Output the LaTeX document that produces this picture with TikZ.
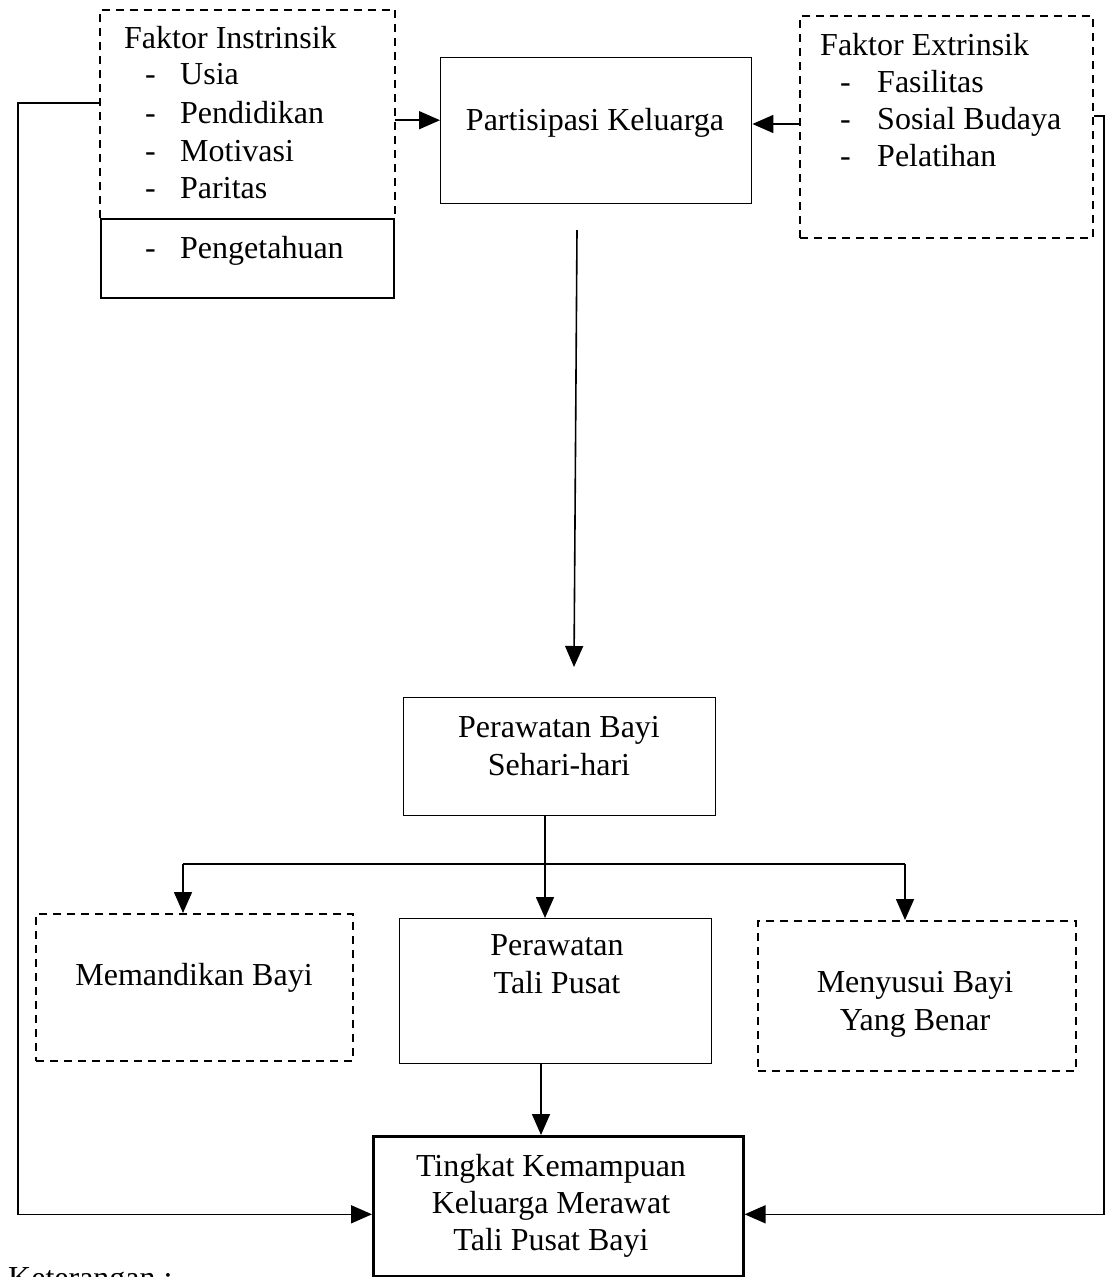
\documentclass[tikz,border=0pt]{standalone}
\usepackage{fontspec}
\setmainfont{Liberation Serif}
\usetikzlibrary{arrows.meta}
\tikzset{
  box/.style={draw, line width=1.4pt, inner sep=0pt, anchor=north west},
  dbox/.style={draw, line width=2pt, dash pattern=on 8pt off 6pt, inner sep=0pt, anchor=north west},
  dline/.style={line width=2pt, dash pattern=on 8pt off 6pt},
  hidbox/.style={draw=none, inner sep=0pt, anchor=north west},
  lbl/.style={inner sep=0pt, font=\fontsize{32}{38}\selectfont},
  conn/.style={line width=1.6pt},
  arr/.style={line width=1.6pt, -{Triangle[length=21pt,width=18pt]}},
}
\begin{document}
\begin{tikzpicture}[x=1pt,y=-1pt]
\useasboundingbox (0,0) rectangle (1108,1277);
% boxes
\node[hidbox, minimum width=295pt, minimum height=208pt] (ins) at (100,10) {};
\draw[dline] (ins.south west) -- (ins.north west) -- (ins.north east) -- (ins.south east);
\node[box, line width=2pt, minimum width=293pt, minimum height=79pt] (peng) at (100,218) {};
\node[box, minimum width=311pt, minimum height=146pt] (part) at (440,57) {};
\node[dbox, minimum width=293pt, minimum height=222pt] (ext) at (799,15) {};
\node[box, minimum width=312pt, minimum height=118pt] (per) at (403,697) {};
\node[dbox, minimum width=317pt, minimum height=147pt] (mem) at (35,913) {};
\node[box, minimum width=312pt, minimum height=145pt] (tali) at (399,918) {};
\node[dbox, minimum width=318pt, minimum height=150pt] (men) at (757,920) {};
\node[box, line width=2.6pt, minimum width=370pt, minimum height=140pt] (ting) at (372,1135) {};
% texts
\node[lbl, anchor=base west] (t1) at (124,48) {Faktor Instrinsik};
\node[lbl, anchor=base west] (d1) at (145,84) {-};
\node[lbl, anchor=base west] (i1) at (180,84) {Usia};
\node[lbl, anchor=base west] (d2) at (145,123) {-};
\node[lbl, anchor=base west] (i2) at (180,123) {Pendidikan};
\node[lbl, anchor=base west] (d3) at (145,161) {-};
\node[lbl, anchor=base west] (i3) at (180,161) {Motivasi};
\node[lbl, anchor=base west] (d4) at (145,198) {-};
\node[lbl, anchor=base west] (i4) at (180,198) {Paritas};
\node[lbl, anchor=base west] (d5) at (145,258) {-};
\node[lbl, anchor=base west] (i5) at (180,258) {Pengetahuan};
\node[lbl, anchor=base west] (t2) at (820,55) {Faktor Extrinsik};
\node[lbl, anchor=base west] (e1d) at (840,92) {-};
\node[lbl, anchor=base west] (e1) at (877,92) {Fasilitas};
\node[lbl, anchor=base west] (e2d) at (840,129) {-};
\node[lbl, anchor=base west] (e2) at (877,129) {Sosial Budaya};
\node[lbl, anchor=base west] (e3d) at (840,166) {-};
\node[lbl, anchor=base west] (e3) at (877,166) {Pelatihan};
\node[lbl, anchor=base] (tp) at (595,130) {Partisipasi Keluarga};
\node[lbl, anchor=base] (tb1) at (559,737) {Perawatan Bayi};
\node[lbl, anchor=base] (tb2) at (559,775) {Sehari-hari};
\node[lbl, anchor=base] (tm) at (194,985) {Memandikan Bayi};
\node[lbl, anchor=base] (tt1) at (557,955) {Perawatan};
\node[lbl, anchor=base] (tt2) at (557,993) {Tali Pusat};
\node[lbl, anchor=base] (tn1) at (915,992) {Menyusui Bayi};
\node[lbl, anchor=base] (tn2) at (915,1030) {Yang Benar};
\node[lbl, anchor=base] (tk1) at (551,1176) {Tingkat Kemampuan};
\node[lbl, anchor=base] (tk2) at (551,1213) {Keluarga Merawat};
\node[lbl, anchor=base] (tk3) at (551,1250) {Tali Pusat Bayi};
\node[lbl, anchor=base west] (ket) at (8,1288) {Keterangan :};
% coordinates
\coordinate (vs) at (577,230);
\coordinate (ve) at (574,667);
\coordinate (lx) at (18,0);
\coordinate (rx) at (1104,0);
\coordinate (bl) at (183,864);
\coordinate (bm) at (545,864);
\coordinate (br) at (905,864);
\coordinate (tx) at (541,0);
% connectors
\draw[arr] ([yshift=-6pt]ins.east) -- ([yshift=-6pt]ins.east -| part.west);
\draw[arr] ([yshift=3pt]ext.west) -- ([yshift=3pt]ext.west -| part.east);
\draw[arr] (vs) -- (ve);
\draw[arr] ([yshift=11pt]ins.west) -- ([yshift=11pt]ins.west -| lx) -- ([yshift=-8pt]ting.west -| lx) -- ([yshift=-8pt]ting.west);
\draw[arr] ([yshift=11pt]ext.east) -- ([yshift=11pt]ext.east -| rx) -- ([yshift=-8pt]ting.east -| rx) -- ([yshift=-8pt]ting.east);
\draw[conn, line width=2.4pt] (bl) -- (br);
\draw[conn] (bm |- per.south) -- (bm);
\draw[arr] (bm) -- (bm |- tali.north);
\draw[arr] (bl) -- (bl |- mem.north);
\draw[arr] (br) -- (br |- men.north);
\draw[arr] (tali.south -| tx) -- (ting.north -| tx);
\end{tikzpicture}
\end{document}
